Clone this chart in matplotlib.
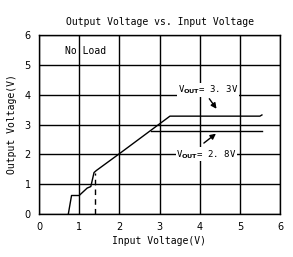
import matplotlib
matplotlib.use('Agg')
import matplotlib.pyplot as plt

# 3.3V output curve
vin_33 = [0.73, 0.81, 1.0, 1.2, 1.29, 1.37, 1.43, 2.0, 3.26, 5.5, 5.55]
vout_33 = [0.0, 0.62, 0.62, 0.87, 0.92, 1.39, 1.46, 2.02, 3.28, 3.28, 3.32]
# 2.8V output curve (flat part)
vin_28 = [2.8, 5.54]
vout_28 = [2.77, 2.77]
# dashed start-up line
vin_dash = [1.39, 1.39]
vout_dash = [0.0, 1.38]

mono = 'DejaVu Sans Mono'

fig = plt.figure(figsize=(2.93, 2.57), dpi=100)
ax = fig.add_axes([39 / 293, 1 - 214 / 257, 241 / 293, 179 / 257])

ax.plot(vin_33, vout_33, color='black', lw=1)
ax.plot(vin_28, vout_28, color='black', lw=1)
ax.plot(vin_dash, vout_dash, color='black', lw=1, ls=(0, (4, 3)))

ax.set_xlim(0, 6)
ax.set_ylim(0, 6)
ax.set_xticks(range(7))
ax.set_yticks(range(7))
ax.grid(True, color='black', lw=1)
ax.tick_params(length=0, labelsize=7, pad=6)
for s in ax.spines.values():
    s.set_linewidth(1)

ax.set_title('Output Voltage vs. Input Voltage', fontsize=7, family=mono, pad=7)
ax.set_xlabel('Input Voltage(V)', fontsize=7, family=mono, labelpad=3)
ax.set_ylabel('Output Voltage(V)', fontsize=7, family=mono, labelpad=5)

ax.text(0.65, 5.45, 'No Load', fontsize=7, family=mono, va='center')

ax.text(4.2, 4.15, r'V$_{\mathbf{OUT}}$= 3. 3V', fontsize=6.5, family=mono,
        ha='center', va='center', bbox=dict(fc='white', ec='none', pad=0.5))
ax.annotate('', xy=(4.46, 3.45), xytext=(4.2, 3.94),
            arrowprops=dict(arrowstyle='-|>', color='black', lw=1, mutation_scale=8))
ax.text(4.17, 2.0, r'V$_{\mathbf{OUT}}$= 2. 8V', fontsize=6.5, family=mono,
        ha='center', va='center', bbox=dict(fc='white', ec='none', pad=0.5))
ax.annotate('', xy=(4.46, 2.75), xytext=(4.05, 2.32),
            arrowprops=dict(arrowstyle='-|>', color='black', lw=1, mutation_scale=8))

fig.savefig('out.png', dpi=100)
